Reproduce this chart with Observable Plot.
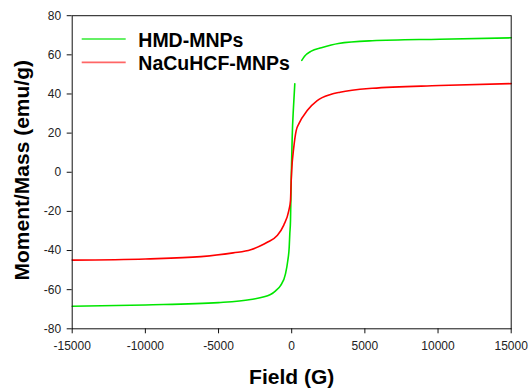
<!DOCTYPE html>
<html>
<head>
<meta charset="utf-8">
<script src="https://cdn.jsdelivr.net/npm/d3@7"></script>
<script src="https://cdn.jsdelivr.net/npm/@observablehq/plot@0.6"></script>
<style>
  html, body { margin: 0; padding: 0; background: #fff; }
  #chart { width: 530px; height: 390px; }
</style>
</head>
<body>
<div id="chart"></div>
<script>
// ---- data ----
const seriesNames = ["HMD-MNPs", "NaCuHCF-MNPs"];
const seriesColors = ["#00e600", "#ff0000"];

const fieldHMD = [-15000, -10000, -5000, -2800, -1450, -1100, -765, -424, -266, -171, -130, -82, -34, 0, 34, 120, 212,
                  450,
                  690, 880, 1340, 2030, 3190, 5500, 10100, 15000];
const momentHMD = [-68.5, -67.8, -66.6, -65.0, -62.5, -60.6, -57.9, -51.9, -45.1, -38.3, -31.5, -24.7, -4.2, 7.0, 17.9, 33.0, 45.2,
                   NaN,
                   57.2, 59.3, 61.9, 63.6, 65.8, 67.2, 68.0, 68.7];

const fieldNa = [-15000, -10000, -6200, -4000, -2800, -2130, -1670, -990, -540, -198, -82, -34, 0, 143, 307, 485, 1059, 1743, 2651, 3300, 5500, 10100, 15000];
const momentNa = [-44.9, -44.3, -43.1, -41.2, -39.6, -37.6, -35.8, -32.3, -27.0, -19.6, -14.5, -4.2, 1.0, 12.8, 21.3, 24.7, 31.5, 36.6, 39.7, 40.9, 42.9, 44.3, 45.3];

const xTicks = [-15000, -10000, -5000, 0, 5000, 10000, 15000];
const yTicks = [-80, -60, -40, -20, 0, 20, 40, 60, 80];
const xTitle = "Field (G)";
const yTitle = "Moment/Mass (emu/g)";

const hmd = fieldHMD.map((f, i) => ({field: f, moment: momentHMD[i]}));
const na = fieldNa.map((f, i) => ({field: f, moment: momentNa[i]}));

const font = "Arial, 'Liberation Sans', sans-serif";

const chart = Plot.plot({
  width: 530,
  height: 390,
  marginLeft: 71.7,
  marginRight: 19.3,
  marginTop: 15.2,
  marginBottom: 61.7,
  style: {fontFamily: font, background: "#fff", overflow: "visible"},
  x: {domain: [-15000, 15000]},
  y: {domain: [-80, 80]},
  marks: [
    Plot.line(hmd, {x: "field", y: "moment", stroke: seriesColors[0], strokeWidth: 1.6, curve: "monotone-x"}),
    Plot.line(na, {x: "field", y: "moment", stroke: seriesColors[1], strokeWidth: 1.6, curve: "monotone-x"}),
    Plot.frame({stroke: "#111", strokeWidth: 1}),
    Plot.axisX({ticks: xTicks, tickFormat: d => String(d), tickSize: 5, tickPadding: 8, fontSize: 12, label: null, stroke: "#111", fill: "#222"}),
    Plot.axisY({ticks: yTicks, tickFormat: d => String(d), tickSize: 5, tickPadding: 6, fontSize: 12, label: null, stroke: "#111", fill: "#222"}),
    Plot.text([xTitle], {frameAnchor: "bottom", dy: 48, lineAnchor: "middle", textAnchor: "middle", fontSize: 21, fontWeight: "bold", fill: "#000"}),
    Plot.text([yTitle], {frameAnchor: "left", dx: -50, dy: -2, rotate: -90, lineAnchor: "middle", textAnchor: "middle", fontSize: 21, fontWeight: "bold", fill: "#000"})
  ]
});

// legend inside the plot
const svg = d3.select(chart);
const leg = svg.append("g").attr("font-family", font).attr("text-anchor", "start");
seriesNames.forEach((name, i) => {
  const y = 39 + i * 23.3;
  leg.append("line")
    .attr("x1", 81.7).attr("x2", 125.7).attr("y1", y).attr("y2", y)
    .attr("stroke", seriesColors[i]).attr("stroke-opacity", 0.6).attr("stroke-width", 1.8);
  leg.append("text")
    .attr("x", 138.3).attr("y", y + 7.5)
    .attr("text-anchor", "start")
    .attr("font-size", 19.5).attr("font-weight", "bold").attr("fill", "#000")
    .text(name);
});

document.getElementById("chart").appendChild(chart);
</script>
</body>
</html>
